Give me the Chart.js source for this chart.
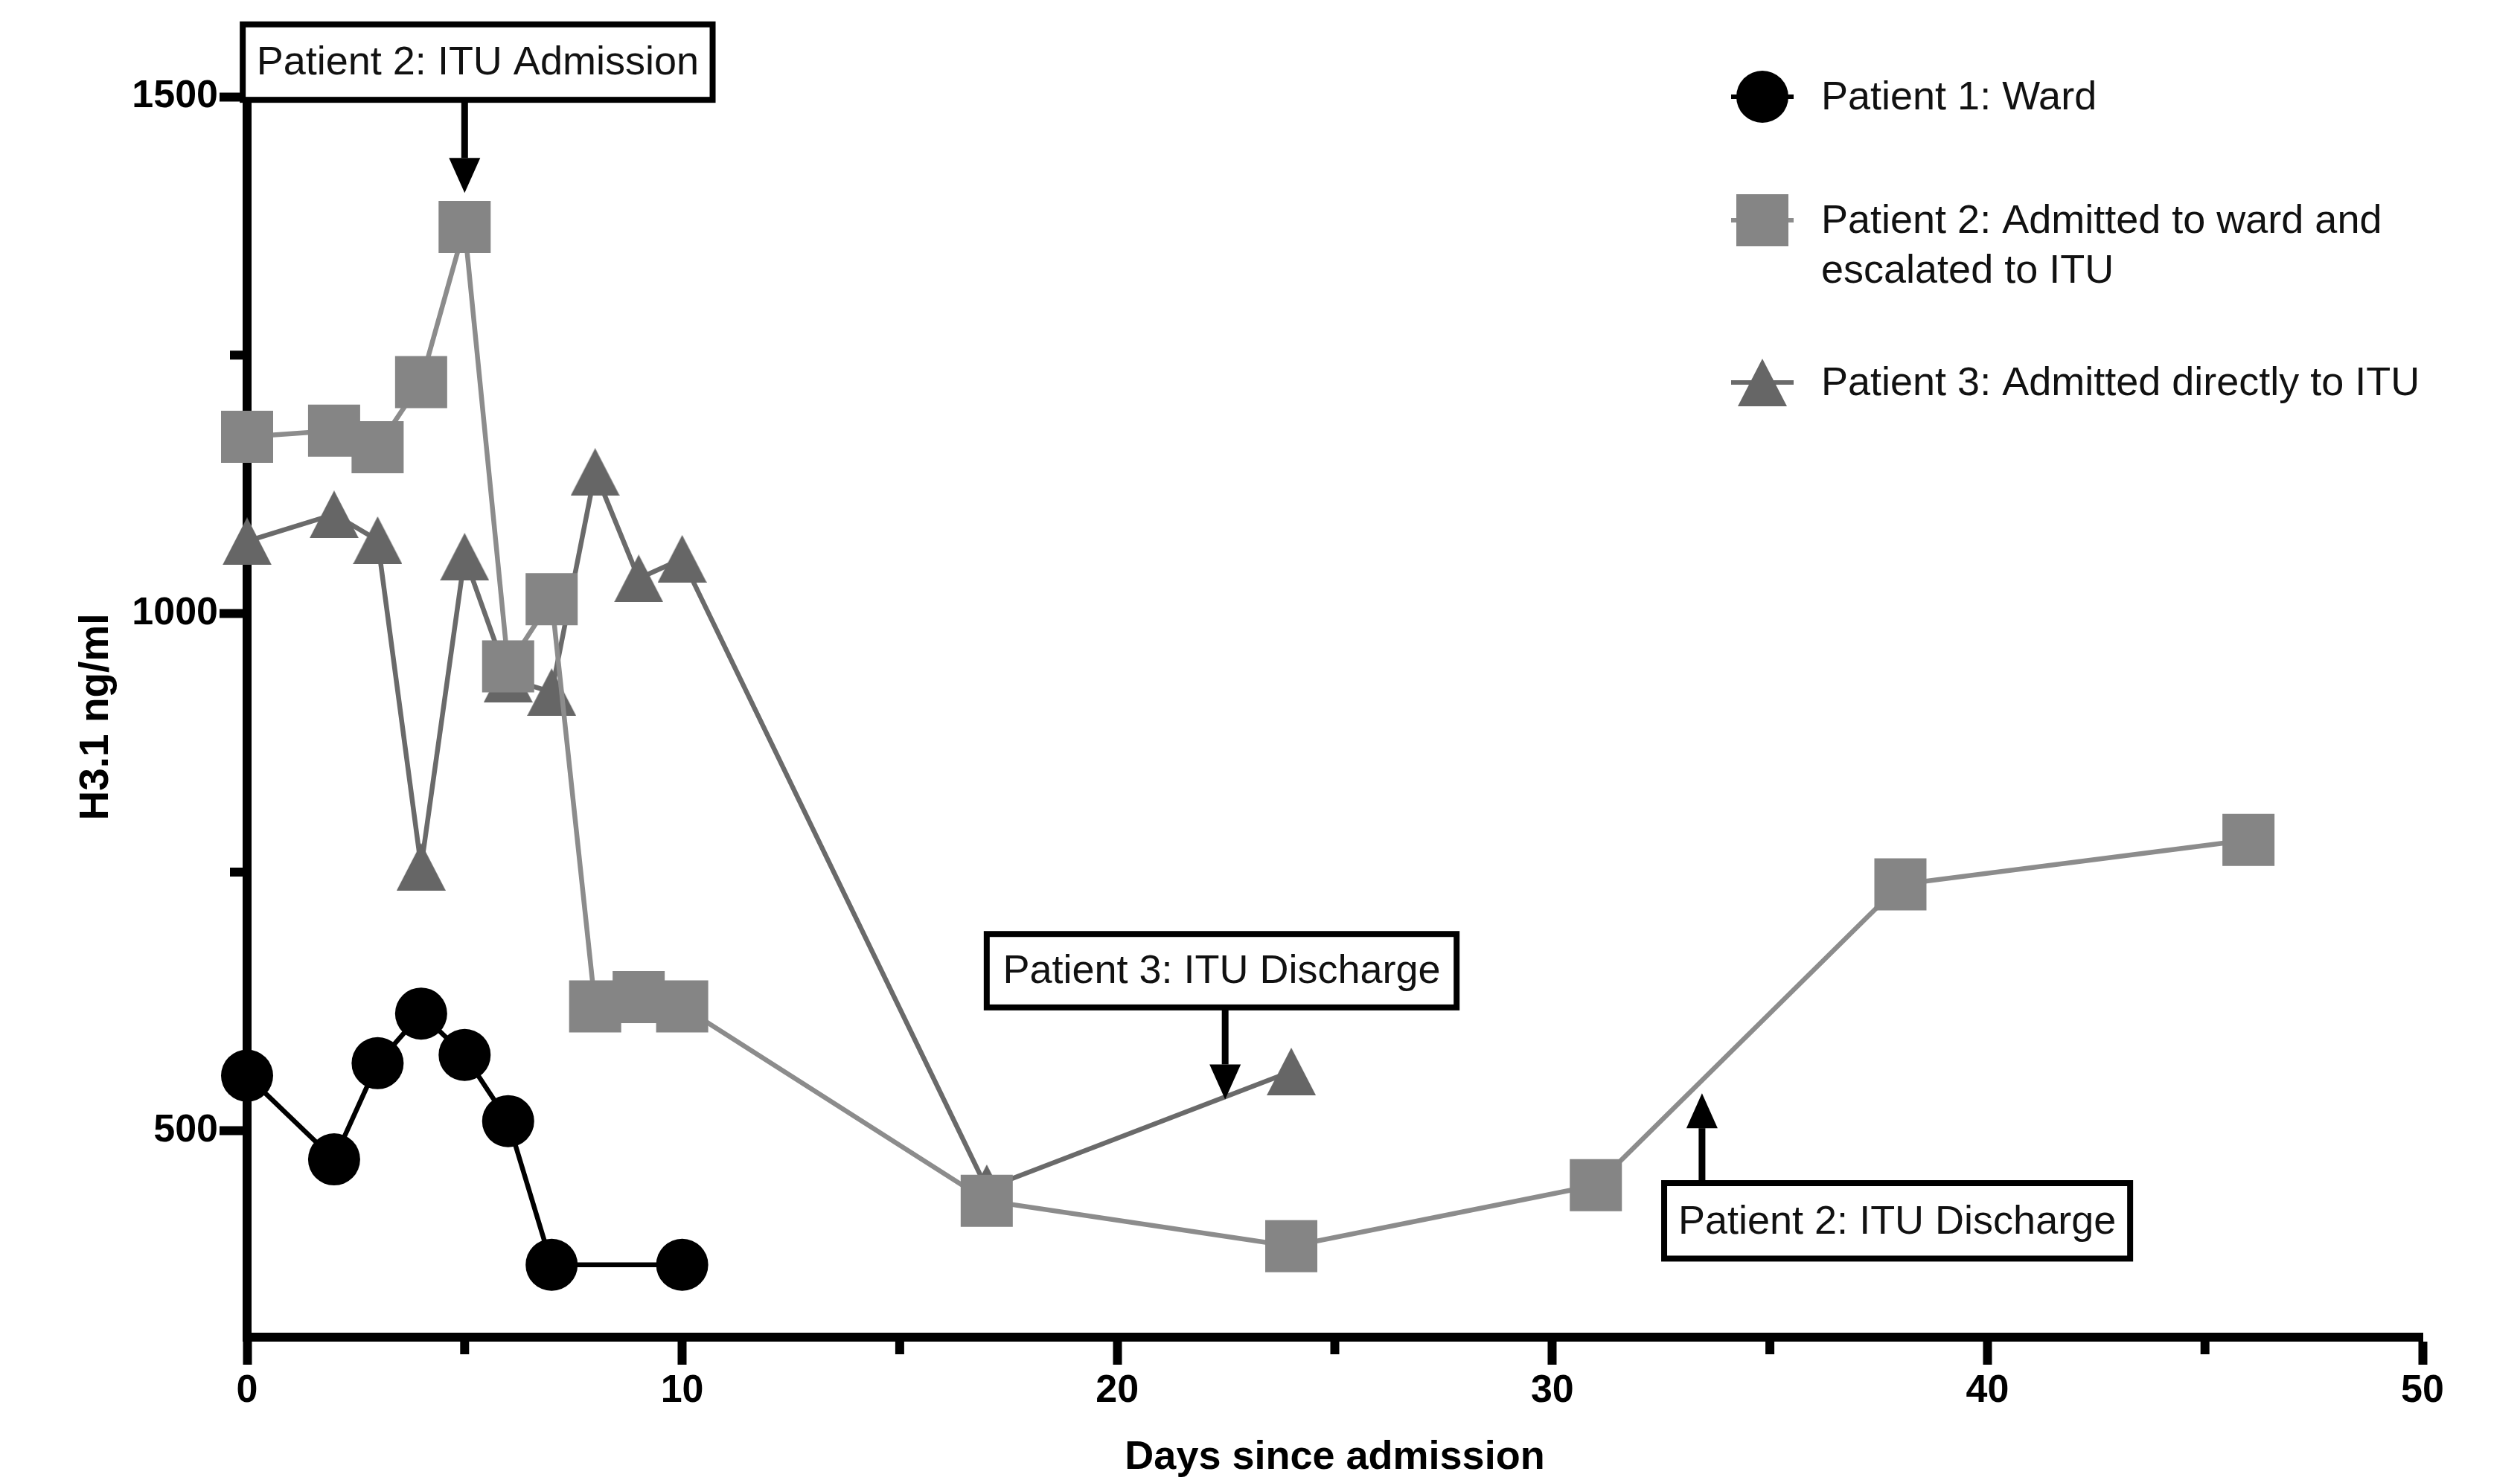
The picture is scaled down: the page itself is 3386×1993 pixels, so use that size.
<!DOCTYPE html>
<html lang="en">
<head>
<meta charset="UTF-8">
<title>H3.1 ng/ml by days since admission</title>
<script src="https://cdn.jsdelivr.net/npm/chart.js"></script>
<style>
  html, body { margin: 0; padding: 0; background: #fff; }
  canvas { display: block; }
</style>
</head>
<body>
<canvas id="h31Chart" width="3386" height="1993"></canvas>
<script>
// axis ticks
const xTicks = [0, 10, 20, 30, 40, 50];
const xMinorTicks = [5, 15, 25, 35, 45];
const yTicks = [500, 1000, 1500];
const yMinorTicks = [750, 1250];

// series (days since admission, H3.1 ng/ml)
const p1Days = [0, 2, 3, 4, 5, 6, 7, 10];
const p1Values = [553, 472, 565, 613, 573, 509, 370, 370];

const p2Days = [0, 2, 3, 4, 5, 6, 7, 8, 9, 10, 17, 24, 31, 38, 46];
const p2Values = [1171, 1177, 1161, 1224, 1374, 949, 1014, 620, 629, 620, 432, 388, 447, 738, 781];

const p3Days = [0, 2, 3, 4, 5, 6, 7, 8, 9, 10, 17, 24];
const p3Values = [1070, 1096, 1071, 755, 1055, 937, 924, 1137, 1034, 1053, 444, 557];

const seriesLabels = [
  ['Patient 1: Ward'],
  ['Patient 2: Admitted to ward and', 'escalated to ITU'],
  ['Patient 3: Admitted directly to ITU']
];

// call-outs, box given in axis units [x0, x1, yTop, yBottom]
const notes = [
  { text: 'Patient 2: ITU Admission', box: [-0.1, 10.7, 1570, 1497], arrowX: 5, tipY: 1407 },
  { text: 'Patient 3: ITU Discharge', box: [17.0, 27.8, 690, 619], arrowX: 22.48, tipY: 530 },
  { text: 'Patient 2: ITU Discharge', box: [32.57, 43.28, 449, 376], arrowX: 33.44, tipY: 536 }
];

const FONT = '"Liberation Sans", Arial, sans-serif';
const INK = '#111';
const AXIS_W = 12;

function triangleImage(w, h, color) {
  const c = document.createElement('canvas');
  c.width = w;
  c.height = h;
  const g = c.getContext('2d');
  g.fillStyle = color;
  g.beginPath();
  g.moveTo(w / 2, 0);
  g.lineTo(w, h);
  g.lineTo(0, h);
  g.closePath();
  g.fill();
  return c;
}

const triangle = triangleImage(66, 64, '#666666');

function points(days, values) {
  return days.map((d, i) => ({ x: d, y: values[i] }));
}

// minor ticks on both axes
const minorTicks = {
  id: 'minorTicks',
  afterDraw(chart) {
    const ctx = chart.ctx;
    const x = chart.scales.x, y = chart.scales.y;
    const area = chart.chartArea;
    ctx.save();
    ctx.strokeStyle = '#000';
    ctx.lineWidth = AXIS_W;
    ctx.beginPath();
    xMinorTicks.forEach(v => {
      const px = x.getPixelForValue(v);
      ctx.moveTo(px, area.bottom);
      ctx.lineTo(px, area.bottom + 23);
    });
    yMinorTicks.forEach(v => {
      const py = y.getPixelForValue(v);
      ctx.moveTo(area.left, py);
      ctx.lineTo(area.left - 23, py);
    });
    ctx.stroke();
    ctx.restore();
  }
};

function arrow(ctx, x, y0, y1) {
  const dir = y1 > y0 ? 1 : -1;
  const headLen = 47, headW = 42;
  ctx.beginPath();
  ctx.moveTo(x, y0);
  ctx.lineTo(x, y1 - dir * headLen);
  ctx.lineWidth = 9;
  ctx.stroke();
  ctx.beginPath();
  ctx.moveTo(x, y1);
  ctx.lineTo(x - headW / 2, y1 - dir * headLen);
  ctx.lineTo(x + headW / 2, y1 - dir * headLen);
  ctx.closePath();
  ctx.fill();
}

const callouts = {
  id: 'callouts',
  afterDraw(chart) {
    const ctx = chart.ctx;
    const x = chart.scales.x, y = chart.scales.y;
    ctx.save();
    notes.forEach(n => {
      const bx0 = x.getPixelForValue(n.box[0]);
      const bx1 = x.getPixelForValue(n.box[1]);
      const by0 = y.getPixelForValue(n.box[2]);
      const by1 = y.getPixelForValue(n.box[3]);
      const ax = x.getPixelForValue(n.arrowX);
      const tip = y.getPixelForValue(n.tipY);
      ctx.fillStyle = '#fff';
      ctx.fillRect(bx0, by0, bx1 - bx0, by1 - by0);
      ctx.strokeStyle = '#000';
      ctx.lineWidth = 8;
      ctx.strokeRect(bx0, by0, bx1 - bx0, by1 - by0);
      ctx.fillStyle = INK;
      ctx.font = '54px ' + FONT;
      ctx.textAlign = 'center';
      ctx.textBaseline = 'middle';
      ctx.fillText(n.text, (bx0 + bx1) / 2, (by0 + by1) / 2 + 2);
      ctx.fillStyle = '#000';
      const start = tip > by1 ? by1 : by0;
      arrow(ctx, ax, start, tip);
    });
    ctx.restore();
  }
};

// legend inside the plot, top right
const keyBox = {
  id: 'keyBox',
  afterDraw(chart) {
    const ctx = chart.ctx;
    const rows = [130, 296, 514];
    const symX = 2368, textX = 2447, lineGap = 67;
    ctx.save();
    chart.data.datasets.forEach((ds, i) => {
      const cy = rows[i];
      ctx.strokeStyle = ds.borderColor;
      ctx.lineWidth = 6;
      ctx.beginPath();
      ctx.moveTo(symX - 42, cy);
      ctx.lineTo(symX + 42, cy);
      ctx.stroke();
      ctx.fillStyle = ds.backgroundColor;
      if (i === 0) {
        ctx.beginPath();
        ctx.arc(symX, cy, 35, 0, Math.PI * 2);
        ctx.fill();
      } else if (i === 1) {
        ctx.fillRect(symX - 35, cy - 35, 70, 70);
      } else {
        ctx.drawImage(triangle, symX - triangle.width / 2, cy - triangle.height / 2);
      }
      ctx.fillStyle = INK;
      ctx.font = '54px ' + FONT;
      ctx.textAlign = 'left';
      ctx.textBaseline = 'middle';
      seriesLabels[i].forEach((t, k) => ctx.fillText(t, textX, cy + k * lineGap + 2));
    });
    ctx.restore();
  }
};

const axisLook = {
  grid: { drawOnChartArea: false, drawTicks: true, tickLength: 37, tickWidth: AXIS_W, tickColor: '#000' },
  border: { display: true, color: '#000', width: AXIS_W }
};

new Chart(document.getElementById('h31Chart'), {
  type: 'line',
  data: {
    datasets: [
      {
        label: seriesLabels[0].join(' '),
        data: points(p1Days, p1Values),
        borderColor: '#000000',
        backgroundColor: '#000000',
        borderWidth: 6.5,
        pointStyle: 'circle',
        pointRadius: 35,
        pointBorderWidth: 0
      },
      {
        label: seriesLabels[1].join(' '),
        data: points(p2Days, p2Values),
        borderColor: '#8c8c8c',
        backgroundColor: '#858585',
        borderWidth: 6.5,
        pointStyle: 'rect',
        pointRadius: 49.5,
        pointBorderWidth: 0
      },
      {
        label: seriesLabels[2].join(' '),
        data: points(p3Days, p3Values),
        borderColor: '#6a6a6a',
        backgroundColor: '#666666',
        borderWidth: 6.5,
        pointStyle: triangle,
        pointRadius: 33,
        pointBorderWidth: 0
      }
    ]
  },
  options: {
    responsive: false,
    animation: false,
    devicePixelRatio: 1,
    clip: false,
    layout: { padding: { top: 130, right: 131, left: 0, bottom: 0 } },
    elements: { line: { tension: 0 } },
    plugins: {
      legend: { display: false },
      tooltip: { enabled: false }
    },
    scales: {
      x: {
        type: 'linear',
        min: 0,
        max: 50,
        afterBuildTicks: s => { s.ticks = xTicks.map(v => ({ value: v })); },
        afterFit: s => { s.height = 196; },
        ticks: { color: '#000', padding: 4, callback: v => String(v), font: { family: FONT, size: 52, weight: 'bold' } },
        title: {
          display: true,
          text: 'Days since admission',
          color: '#000',
          padding: { top: 0, bottom: 1 },
          font: { family: FONT, size: 54, weight: 'bold' }
        },
        ...axisLook
      },
      y: {
        type: 'linear',
        min: 300,
        max: 1500,
        afterBuildTicks: s => { s.ticks = yTicks.map(v => ({ value: v })); },
        afterFit: s => { s.width = 332; },
        ticks: { color: '#000', padding: 2, callback: v => String(v), font: { family: FONT, size: 52, weight: 'bold' } },
        title: {
          display: true,
          text: 'H3.1 ng/ml',
          color: '#000',
          padding: { top: 97, bottom: 0 },
          font: { family: FONT, size: 55, weight: 'bold' }
        },
        ...axisLook
      }
    }
  },
  plugins: [minorTicks, callouts, keyBox]
});
</script>
</body>
</html>
